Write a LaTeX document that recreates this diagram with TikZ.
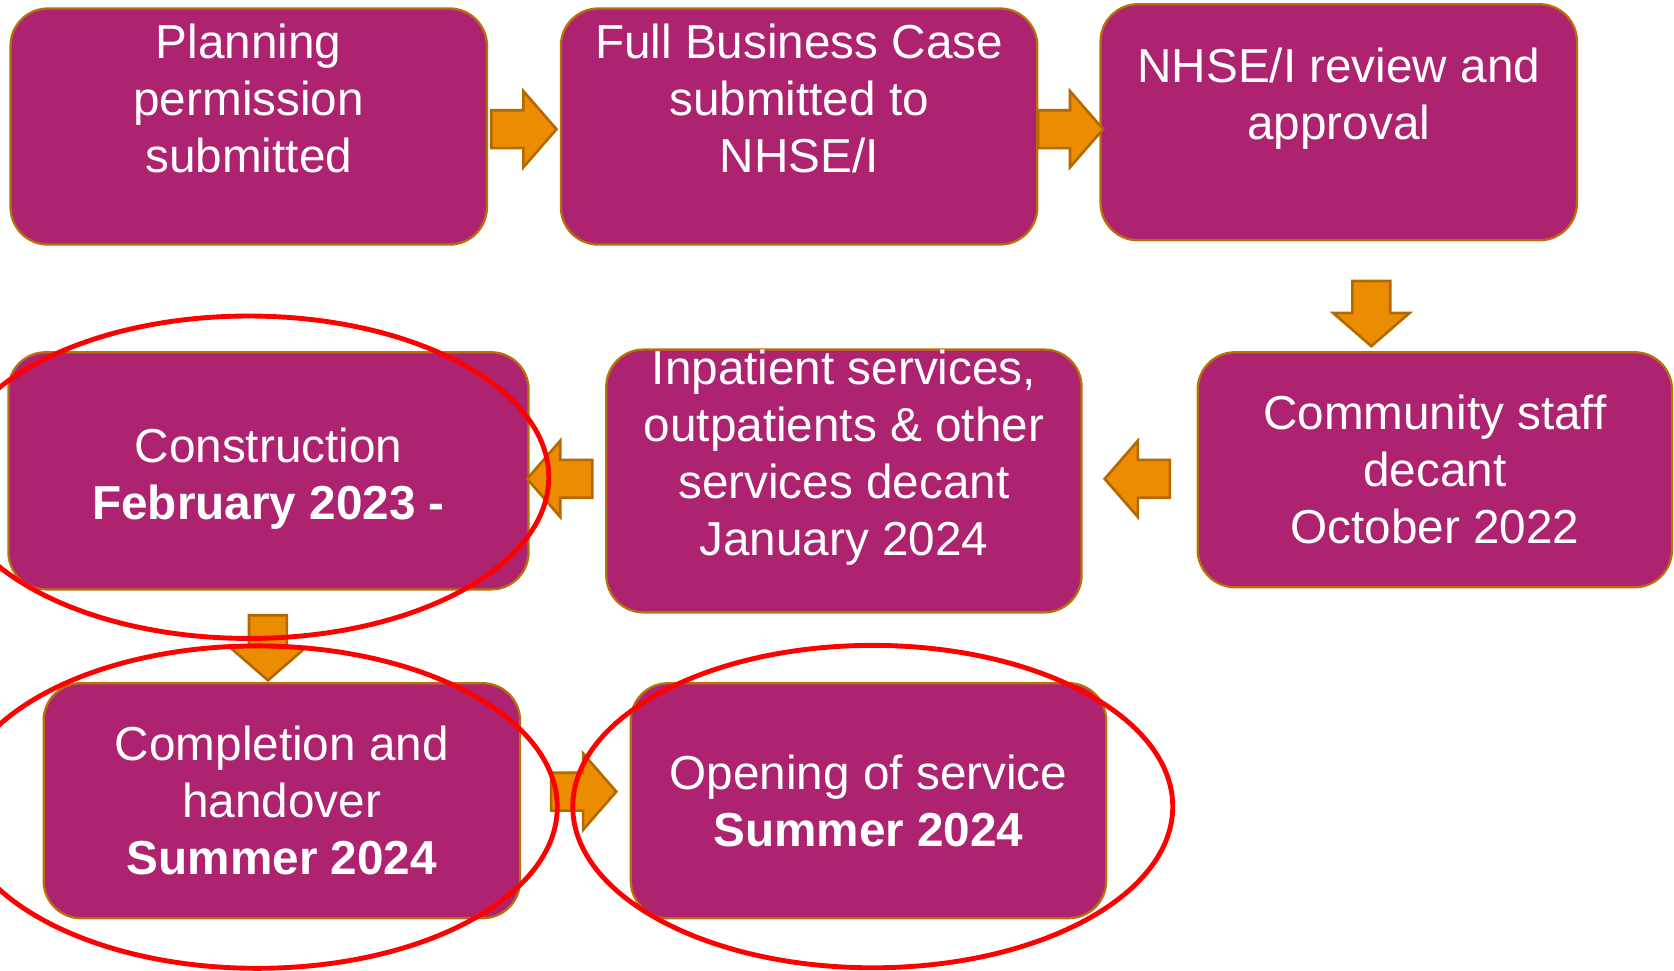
\documentclass[tikz,border=0pt]{standalone}
\usepackage{fontspec}
\setmainfont{Liberation Sans}
\usetikzlibrary{shapes.arrows}
\definecolor{stagefill}{RGB}{174,35,112}
\definecolor{stageedge}{RGB}{184,112,10}
\definecolor{arroworange}{RGB}{236,140,0}
\definecolor{arrowedge}{RGB}{180,104,0}
\newcommand{\stagefont}{\fontsize{12.7}{15.2}\selectfont}

\begin{document}
\begin{tikzpicture}[x=0.01cm,y=-0.01cm,
  stage/.style={draw=stageedge,line width=0.6pt,fill=stagefill,text=white,rounded corners=0.35cm,
    align=center,minimum width=4.46cm,minimum height=2.21cm,inner sep=0pt,font=\stagefont},
  blk/.style={single arrow,draw=arrowedge,fill=arroworange,line width=0.7pt,minimum height=0.61cm,
    single arrow head extend=0.18cm,single arrow tip angle=98,inner sep=0.165cm,anchor=tail},
  ring/.style={draw=red,line width=1.3pt}]
\useasboundingbox (0,0) rectangle (1568,908.6);
% top row
\node[stage] (plan) at (233,118.5) {Planning\\permission\\submitted\\\mbox{}};
\node[stage] (fbc) at (748.5,118.5) {Full Business Case\\submitted to\\NHSE/I\\\mbox{}};
\node[stage] (review) at (1254,114.5) {NHSE/I review and\\approval\\\mbox{}};
% middle row
\node[stage,minimum width=4.44cm,minimum height=2.2cm] (staff) at (1344,440) {Community staff\\decant\\October 2022};
\node[stage,minimum width=4.45cm,minimum height=2.41cm] (decant) at (790.5,450.5) {Inpatient services,\\outpatients \& other\\services decant\\January 2024\\\mbox{}};
\node[stage,minimum width=4.87cm,minimum height=2.22cm] (build) at (251.5,441) {\rule{0pt}{0.47cm}Construction\\\textbf{February 2023 -}};
% bottom row
\node[stage,minimum height=2.2cm] (handover) at (264,750) {Completion and\\handover\\\textbf{Summer 2024}};
\node[stage,minimum width=4.45cm,minimum height=2.2cm] (opening) at (813.5,750) {Opening of service\\\textbf{Summer 2024}};
% block arrows, placed by their tails
\node[blk] (a1) at (459,121) {};
\node[blk] (a2) at (971,121) {};
\node[blk,shape border rotate=270] (a3) at (1284.5,262) {};
\node[blk,shape border rotate=180] (a4) at (1097,448.5) {};
\node[blk,shape border rotate=180] (a5) at (556,448.5) {};
\node[blk,shape border rotate=270] (a6) at (251,575) {};
\node[blk] (a7) at (515,741.5) {};
% red rings
\draw[ring] (build.center) ++(-18.5,6) ellipse [x radius=281,y radius=151];
\draw[ring] (handover.center) ++(-23,6) ellipse [x radius=281,y radius=151];
\draw[ring] (opening.center) ++(4,5.5) ellipse [x radius=281,y radius=151];
\end{tikzpicture}
\end{document}
